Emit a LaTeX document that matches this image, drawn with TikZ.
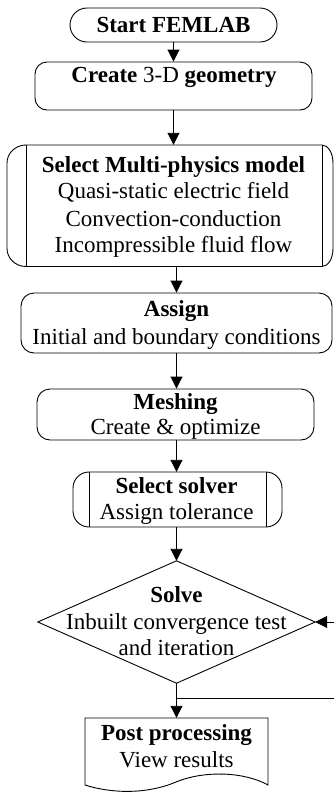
\documentclass[tikz,border=0pt]{standalone}
\usepackage{fontspec}
\setmainfont{Liberation Serif}
\usetikzlibrary{arrows.meta}
\begin{document}
\begin{tikzpicture}[x=1pt,y=-1pt,
  lw/.style={line width=0.9pt},
  box/.style={lw, draw, rectangle, inner sep=0pt},
  frame/.style={rectangle, inner sep=0pt, draw=none},
  txt/.style={anchor=base, inner sep=0pt, font=\fontsize{23}{27}\selectfont},
  btxt/.style={anchor=base, inner sep=0pt, font=\fontsize{23}{27}\selectfont\bfseries},
  arr/.style={lw, -{Triangle[length=12pt,width=12pt]}}]
\useasboundingbox (0,0) rectangle (334,793);

% Start
\node[box, rounded corners=17pt, minimum width=207pt, minimum height=34pt] (start) at (173.5,25) {};
\node[btxt] (startT) at (173.5,32.5) {Start FEMLAB};

% Create geometry
\node[box, rounded corners=12pt, minimum width=277pt, minimum height=48pt] (create) at (173.5,86) {};
\node[txt] (createT) at (174,82) {\textbf{Create} 3-D \textbf{geometry}};

% Select multi-physics model
\node[frame, minimum width=326pt, minimum height=121.5pt] (select) at (170,205.75) {};
\draw[lw] (26,145) -- (322,145) .. controls (328.1,145) and (333,153.1) .. (333,163)
  -- (333,248.5) .. controls (333,258.4) and (328.1,266.5) .. (322,266.5)
  -- (26,266.5) .. controls (15.5,266.5) and (7,258.4) .. (7,248.5)
  -- (7,163) .. controls (7,153.1) and (15.5,145) .. (26,145) -- cycle;
\draw[lw] (26,145) -- (26,266.5);
\draw[lw] (322,145) -- (322,266.5);
\node[btxt] (selT1) at (173.5,172) {Select Multi-physics model};
\node[txt] (selT2) at (173.5,198) {Quasi-static electric field};
\node[txt] (selT3) at (173.5,226) {Convection-conduction};
\node[txt] (selT4) at (173.5,252) {Incompressible fluid flow};

% Assign
\node[box, rounded corners=13pt, minimum width=311pt, minimum height=60pt] (assign) at (176.5,323) {};
\node[btxt] (assT1) at (176.5,316) {Assign};
\node[txt] (assT2) at (176.5,344) {Initial and boundary conditions};

% Meshing
\node[box, rounded corners=13pt, minimum width=277pt, minimum height=51pt] (mesh) at (175.5,414.5) {};
\node[btxt] (meshT1) at (175.5,409.5) {Meshing};
\node[txt] (meshT2) at (175.5,434.5) {Create \& optimize};

% Select solver
\node[frame, minimum width=209pt, minimum height=55pt] (solver) at (177.5,499.5) {};
\draw[lw] (89,472) -- (266,472) .. controls (274.8,472) and (282,479.2) .. (282,488)
  -- (282,511) .. controls (282,519.8) and (274.8,527) .. (266,527)
  -- (89,527) .. controls (80.2,527) and (73,519.8) .. (73,511)
  -- (73,488) .. controls (73,479.2) and (80.2,472) .. (89,472) -- cycle;
\draw[lw] (89,472) -- (89,527);
\draw[lw] (266,472) -- (266,527);
\node[btxt] (solT1) at (176.5,493) {Select solver};
\node[txt] (solT2) at (176.5,519) {Assign tolerance};

% Solve (decision)
\node[frame, minimum width=277pt, minimum height=122pt] (solve) at (176.5,622) {};
\draw[lw] (solve.north) -- (solve.east) -- (solve.south) -- (solve.west) -- cycle;
\node[btxt] (solveT1) at (176.5,602) {Solve};
\node[txt] (solveT2) at (176.5,629) {Inbuilt convergence test};
\node[txt] (solveT3) at (176.5,655) {and iteration};

% Post processing (document)
\node[frame, minimum width=183pt, minimum height=64pt] (post) at (176.5,750) {};
\draw[lw] (85,718) -- (268,718) -- (268,785)
  .. controls (245,772) and (205,770) .. (176,782)
  .. controls (145,795) and (110,793) .. (85,785) -- cycle;
\node[btxt] (postT1) at (176.5,740) {Post processing};
\node[txt] (postT2) at (176.5,767) {View results};

% Connectors
\draw[arr] (start.south) -- (create.north);
\draw[arr] (create.south) -- (create.south |- select.north);
\draw[arr] (assign.north |- select.south) -- (assign.north);
\draw[arr] (assign.south) -- (assign.south |- mesh.north);
\draw[arr] (assign.south |- mesh.south) -- (assign.south |- solver.north);
\draw[arr] (assign.south |- solver.south) -- (solve.north);
\draw[arr] (solve.south) -- (post.north);
\coordinate (branch) at (176.5,698);
\coordinate (exitR) at (334,698);
\coordinate (entryR) at (334,622);
\draw[lw] (branch) -- (exitR);
\draw[arr] (entryR) -- (solve.east);
\end{tikzpicture}
\end{document}
